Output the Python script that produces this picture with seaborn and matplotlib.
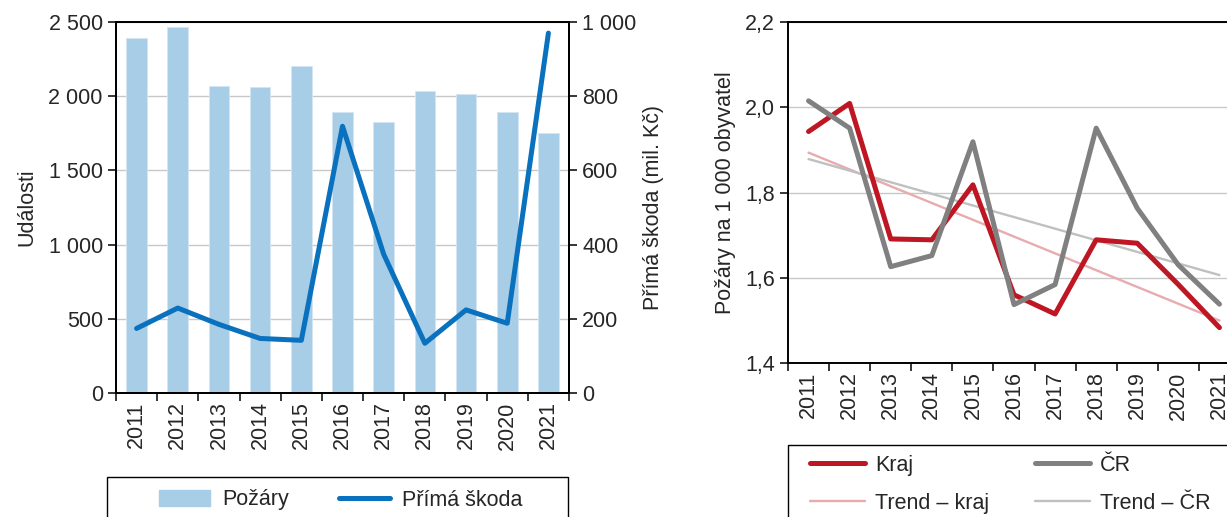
import numpy as np
import pandas as pd
import matplotlib
matplotlib.use('Agg')
import matplotlib.pyplot as plt
import seaborn as sns
from matplotlib.lines import Line2D
from matplotlib.patches import Patch, Rectangle
from matplotlib.ticker import FuncFormatter, MultipleLocator

# data
years = ['2011', '2012', '2013', '2014', '2015', '2016', '2017', '2018', '2019', '2020', '2021']
pozary = [2394, 2469, 2070, 2061, 2206, 1893, 1826, 2034, 2018, 1893, 1752]
skoda = [174, 229, 185, 147, 142, 719, 374, 134, 224, 188, 970]
kraj = [1.943, 2.009, 1.691, 1.689, 1.818, 1.560, 1.515, 1.689, 1.681, 1.584, 1.483]
cr = [2.015, 1.951, 1.626, 1.652, 1.919, 1.537, 1.584, 1.951, 1.763, 1.630, 1.538]

sns.set_style('white')
plt.rcParams['font.family'] = ['Liberation Sans', 'DejaVu Sans']
plt.rcParams['font.size'] = 15.5

BAR = '#a8cde7'
BLUE = '#0971bd'
RED = '#be1622'
GRAY = '#808080'
PINK = '#e8abb0'
LGRAY = '#c0c0c0'
LW = 3.6

df = pd.DataFrame({'rok': years, 'pozary': pozary, 'skoda': skoda,
                   'kraj': kraj, 'cr': cr})
df['pos'] = np.arange(len(df))

# linear trend (same as excel trendline)
df['trend_kraj'] = np.polyval(np.polyfit(df['pos'], df['kraj'], 1), df['pos'])
df['trend_cr'] = np.polyval(np.polyfit(df['pos'], df['cr'], 1), df['pos'])

fig = plt.figure(figsize=(12.27, 5.17), dpi=100)
ax1 = fig.add_axes([116 / 1227, 124 / 517, 453 / 1227, 371 / 517])
ax2 = fig.add_axes([788 / 1227, 154 / 517, 452 / 1227, 341 / 517])

n = len(years)


def style_x(ax):
    ax.set_xlim(-0.5, n - 0.5)
    ax.set_xticks(np.arange(n + 1) - 0.5, [''] * (n + 1))
    ax.set_xticks(np.arange(n), years, minor=True, rotation=90)
    ax.tick_params(axis='x', which='major', direction='out', length=6, width=1.3, bottom=True)
    ax.tick_params(axis='x', which='minor', length=0, pad=6)
    ax.set_xlabel('')


# --- left chart: fires + damage
sns.barplot(data=df, x='pos', y='pozary', color=BAR, width=0.5, saturation=1,
            edgecolor='#d4e6f3', linewidth=0.6, ax=ax1)
ax1.set_ylim(0, 2500)
ax1.yaxis.set_major_locator(MultipleLocator(500))
ax1.yaxis.set_major_formatter(FuncFormatter(lambda v, p: f'{v:,.0f}'.replace(',', ' ')))
ax1.grid(axis='y', color='#c8c8c8', lw=1)
ax1.set_axisbelow(True)
ax1.set_ylabel('Události', labelpad=8)
ax1.tick_params(axis='y', direction='out', length=6, width=1.3, left=True)
style_x(ax1)

ax1b = ax1.twinx()
sns.lineplot(data=df, x='pos', y='skoda', color=BLUE, lw=LW, ax=ax1b, legend=False,
             solid_capstyle='round')
ax1b.set_ylim(0, 1000)
ax1b.yaxis.set_major_locator(MultipleLocator(200))
ax1b.yaxis.set_major_formatter(FuncFormatter(lambda v, p: f'{v:,.0f}'.replace(',', ' ')))
ax1b.set_ylabel('Přímá škoda (mil. Kč)', labelpad=5)
ax1b.tick_params(axis='y', direction='out', length=6, width=1.3, right=True)
style_x(ax1b)

for a in (ax1, ax1b):
    for s in a.spines.values():
        s.set_color('black')
        s.set_linewidth(1.4)

# --- right chart: per 1000 inhabitants
sns.lineplot(data=df, x='pos', y='trend_kraj', color=PINK, lw=1.7, ax=ax2, legend=False)
sns.lineplot(data=df, x='pos', y='trend_cr', color=LGRAY, lw=1.7, ax=ax2, legend=False)
sns.lineplot(data=df, x='pos', y='kraj', color=RED, lw=LW, ax=ax2, legend=False,
             solid_capstyle='round')
sns.lineplot(data=df, x='pos', y='cr', color=GRAY, lw=LW, ax=ax2, legend=False,
             solid_capstyle='round')
ax2.set_ylim(1.4, 2.2)
ax2.yaxis.set_major_locator(MultipleLocator(0.2))
ax2.yaxis.set_major_formatter(FuncFormatter(lambda v, p: f'{v:.1f}'.replace('.', ',')))
ax2.grid(axis='y', color='#c8c8c8', lw=1)
ax2.set_axisbelow(True)
ax2.set_ylabel('Požáry na 1 000 obyvatel', labelpad=6)
ax2.tick_params(axis='y', direction='out', length=6, width=1.3, left=True)
style_x(ax2)
for s in ax2.spines.values():
    s.set_color('black')
    s.set_linewidth(1.4)

# --- legends
fig.patches.append(Rectangle((107 / 1227, -0.1), 461 / 1227, 0.1 + 40 / 517,
                             transform=fig.transFigure, fill=False, ec='black', lw=1))
h1 = [Patch(color=BAR), Line2D([], [], color=BLUE, lw=LW, solid_capstyle='round')]
fig.legend(h1, ['Požáry', 'Přímá škoda'], loc='center left', ncol=2,
           bbox_to_anchor=(148 / 1227, 17 / 517), frameon=False, borderpad=0,
           handlelength=2.4, handletextpad=0.56, columnspacing=2.3)

fig.patches.append(Rectangle((788 / 1227, -0.1), 0.5, 0.1 + 72 / 517,
                             transform=fig.transFigure, fill=False, ec='black', lw=1))
h2 = [Line2D([], [], color=RED, lw=LW, solid_capstyle='round'),
      Line2D([], [], color=PINK, lw=1.7, solid_capstyle='round'),
      Line2D([], [], color=GRAY, lw=LW, solid_capstyle='round'),
      Line2D([], [], color=LGRAY, lw=1.7, solid_capstyle='round')]
fig.legend(h2, ['Kraj', 'Trend – kraj', 'ČR', 'Trend – ČR'], loc='upper left', ncol=2,
           bbox_to_anchor=(799 / 1227, 73 / 517), frameon=False, borderpad=0,
           handlelength=2.55, handletextpad=0.47, columnspacing=2.15, labelspacing=0.8)

fig.savefig('out.png', dpi=100)
